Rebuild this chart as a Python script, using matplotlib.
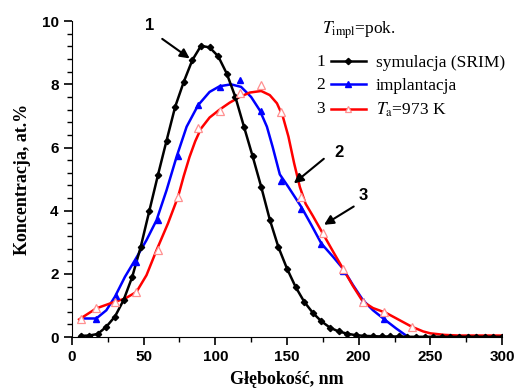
import matplotlib
matplotlib.use('Agg')
import matplotlib.pyplot as plt

# 1 - SRIM simulation (line goes through the points)
srim_x = [6, 12, 18, 24, 30, 36, 42, 48, 54, 60, 66, 72, 78, 84, 90, 96, 102, 108,
          114, 120, 126, 132, 138, 144, 150, 156, 162, 168, 174, 180, 186, 192, 198,
          204, 210, 216, 222, 228, 234, 240, 246, 252, 258, 264, 270, 276, 282, 288,
          294, 300]
srim_y = [0.04, 0.05, 0.10, 0.33, 0.65, 1.17, 1.90, 2.86, 4.00, 5.13, 6.22, 7.29,
          8.08, 8.77, 9.22, 9.17, 8.89, 8.34, 7.60, 6.66, 5.73, 4.76, 3.72, 2.85,
          2.17, 1.59, 1.12, 0.77, 0.50, 0.30, 0.18, 0.11, 0.06, 0.04, 0.03, 0.02,
          0.02, 0.02, 0.01, 0.01, 0.01, 0.01, 0.01, 0.01, 0.01, 0.01, 0.01, 0.01,
          0.01, 0.01]

# 2 - as implanted: measured points and the smooth curve drawn through them
impl_x = [17, 31, 45, 60, 74, 88, 103, 117, 132, 146, 160, 174, 189, 203, 218]
impl_y = [0.58, 1.30, 2.38, 3.71, 5.73, 7.34, 7.93, 8.15, 7.16, 4.95, 4.06, 2.95,
          2.10, 1.15, 0.58]
impl_fit_x = [7, 17, 24, 30, 37, 44, 52, 59, 66, 73, 80, 88, 96, 103, 111, 118, 125,
              131, 136, 140, 145, 151, 160, 167, 174, 182, 189, 196, 203, 210, 218,
              226, 234]
impl_fit_y = [0.59, 0.59, 0.85, 1.28, 1.91, 2.44, 3.07, 3.70, 4.65, 5.71, 6.66, 7.34,
              7.76, 7.94, 8.00, 7.92, 7.60, 7.18, 6.66, 6.02, 5.15, 4.75, 4.12, 3.55,
              2.96, 2.55, 2.17, 1.65, 1.17, 0.85, 0.56, 0.28, 0.02]

# 3 - annealed at 973 K
ann_x = [6, 17, 30, 45, 60, 74, 88, 103, 117, 132, 146, 160, 175, 189, 203, 218, 237]
ann_y = [0.56, 0.91, 1.12, 1.43, 2.75, 4.42, 6.63, 7.15, 7.73, 7.97, 7.13, 4.43,
         3.28, 2.17, 1.12, 0.78, 0.33]
ann_fit_x = [5, 17, 30, 37, 45, 52, 59, 67, 74, 78, 82, 86, 90, 96, 103, 110, 117,
             124, 132, 138, 143, 147, 151, 155, 159, 163, 168, 175, 182, 189, 196,
             203, 210, 219, 228, 237, 245, 250, 260, 270, 280, 290, 300]
ann_fit_y = [0.56, 0.91, 1.12, 1.22, 1.43, 1.96, 2.75, 3.60, 4.44, 5.10, 5.70, 6.20,
             6.60, 6.95, 7.20, 7.42, 7.60, 7.74, 7.79, 7.66, 7.40, 7.00, 6.35, 5.50,
             4.75, 4.22, 3.84, 3.28, 2.72, 2.17, 1.62, 1.12, 0.92, 0.77, 0.55, 0.33,
             0.18, 0.12, 0.07, 0.05, 0.05, 0.05, 0.05]

labels = ['symulacja (SRIM)', 'implantacja', '$T_{\\rm a}$=973 K']

plt.rcParams['mathtext.fontset'] = 'stix'

fig = plt.figure(figsize=(5.29, 3.92), dpi=100)
ax = fig.add_axes([0.136, 0.140, 0.813, 0.806])

blue = '#0000ff'
red = '#ff0000'
ax.plot(impl_fit_x, impl_fit_y, '-', color=blue, lw=1.8)
ax.plot(ann_fit_x, ann_fit_y, '-', color=red, lw=1.8)
l1, = ax.plot(srim_x, srim_y, 'k-', lw=1.8, marker='D', ms=3.2, mfc='k', mec='k')
ax.plot(impl_x, impl_y, ls='none', marker='^', ms=5, mfc=blue, mec=blue)
ax.plot(ann_x, ann_y, ls='none', marker='^', ms=5.5, mfc='white', mec='#ff9090',
        mew=0.9)

# legend handles (line + marker)
h2, = ax.plot([], [], '-', color=blue, lw=1.8, marker='^', ms=4.5, mfc=blue, mec=blue)
h3, = ax.plot([], [], '-', color=red, lw=1.8, marker='^', ms=5, mfc='white',
              mec='#ff9090', mew=0.9)

ax.set_xlim(0, 300)
ax.set_ylim(0, 10)
ax.spines['top'].set_visible(False)
ax.spines['right'].set_visible(False)
ax.set_xticks([0, 50, 100, 150, 200, 250, 300])
ax.set_xticks([25, 75, 125, 175, 225, 275], minor=True)
ax.set_yticks([0, 2, 4, 6, 8, 10])
ax.set_yticks([0.4, 0.8, 1.2, 1.6, 2.4, 2.8, 3.2, 3.6, 4.4, 4.8, 5.2, 5.6,
               6.4, 6.8, 7.2, 7.6, 8.4, 8.8, 9.2, 9.6], minor=True)
ax.tick_params(which='major', direction='out', length=6, width=1.2)
ax.tick_params(which='minor', direction='out', length=3.5, width=1.0)
for lab in ax.get_xticklabels() + ax.get_yticklabels():
    lab.set_fontfamily('Liberation Sans')
    lab.set_fontweight('bold')
    lab.set_fontsize(11)

ax.set_xlabel('Głębokość, nm', fontfamily='Liberation Serif', fontweight='bold',
              fontsize=13, labelpad=5)
ax.set_ylabel('Koncentracja, at.%', fontfamily='Liberation Serif', fontweight='bold',
              fontsize=13, labelpad=8)

# arrows with curve numbers
arrow = dict(arrowstyle='-|>', color='k', lw=1.5, mutation_scale=14)
ax.annotate('', xy=(83.7, 8.77), xytext=(61.4, 9.49), arrowprops=arrow)
ax.annotate('', xy=(153.3, 4.81), xytext=(177.2, 5.70), arrowprops=arrow)
ax.annotate('', xy=(174.2, 3.51), xytext=(198.2, 4.18), arrowprops=arrow)
for t, x, y in [('1', 54.4, 9.87), ('2', 186.0, 5.85), ('3', 203.0, 4.48)]:
    ax.text(x, y, t, fontfamily='Liberation Sans', fontweight='bold', fontsize=12,
            ha='center', va='center')

leg = ax.legend([l1, h2, h3], labels, loc='upper left', bbox_to_anchor=(0.602, 0.892),
                frameon=False, handlelength=2.0, handletextpad=0.6,
                labelspacing=0.38, borderpad=0, borderaxespad=0,
                prop={'family': 'Liberation Serif', 'size': 12.5})
for h in leg.legend_handles:
    h.set_markevery([1])

ax.text(0.581, 0.972, '$T_{\\rm impl}$=pok.', transform=ax.transAxes,
        fontfamily='Liberation Serif', fontsize=12.5, ha='left', va='center')
for t, y in [('1', 0.870), ('2', 0.797), ('3', 0.722)]:
    ax.text(0.578, y, t, transform=ax.transAxes, fontfamily='Liberation Serif',
            fontsize=12.5, ha='center', va='center')

fig.savefig('out.png', dpi=100)
